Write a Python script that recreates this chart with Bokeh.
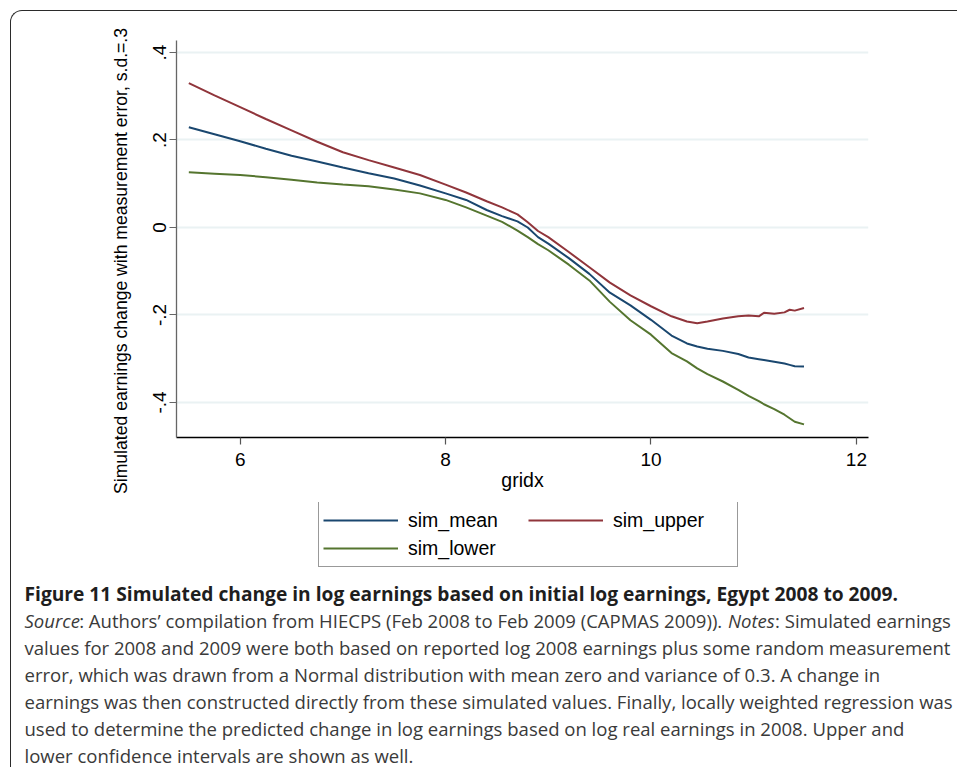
from bokeh.plotting import figure
from bokeh.models import (Range1d, FixedTicker, Legend, LegendItem,
                          ColumnDataSource)
from bokeh.core.properties import value
from bokeh.embed import file_html
from bokeh.resources import INLINE

# ---------------- data ----------------
gridx = [5.50, 5.75, 6.00, 6.25, 6.50, 6.75, 7.00, 7.25, 7.50, 7.75, 8.00,
         8.20, 8.40, 8.55, 8.70, 8.80, 8.90, 9.00, 9.20, 9.40, 9.60, 9.80,
         10.00, 10.20, 10.35, 10.45, 10.55, 10.70, 10.85, 10.95, 11.05,
         11.10, 11.20, 11.30, 11.35, 11.40, 11.49]
sim_mean = [0.229, 0.213, 0.197, 0.180, 0.164, 0.151, 0.137, 0.124, 0.112,
            0.096, 0.078, 0.063, 0.040, 0.026, 0.014, 0.000, -0.022, -0.037,
            -0.070, -0.106, -0.149, -0.178, -0.211, -0.247, -0.265, -0.272,
            -0.277, -0.282, -0.289, -0.297, -0.301, -0.303, -0.307, -0.311,
            -0.314, -0.317, -0.318]
sim_upper = [0.330, 0.302, 0.275, 0.248, 0.222, 0.196, 0.172, 0.154, 0.137,
             0.120, 0.098, 0.080, 0.060, 0.046, 0.030, 0.012, -0.008, -0.022,
             -0.056, -0.091, -0.126, -0.155, -0.180, -0.203, -0.215, -0.219,
             -0.215, -0.208, -0.203, -0.201, -0.203, -0.195, -0.197, -0.194,
             -0.188, -0.190, -0.184]
sim_lower = [0.126, 0.123, 0.120, 0.115, 0.109, 0.103, 0.098, 0.094, 0.087,
             0.078, 0.063, 0.046, 0.027, 0.013, -0.007, -0.022, -0.038, -0.052,
             -0.085, -0.121, -0.170, -0.212, -0.245, -0.287, -0.306, -0.322,
             -0.335, -0.352, -0.371, -0.385, -0.397, -0.404, -0.415, -0.428,
             -0.436, -0.444, -0.450]

series_names = ["sim_mean", "sim_upper", "sim_lower"]
series_colors = ["#1a476f", "#90353b", "#55752f"]

x_ticks = [6, 8, 10, 12]
y_ticks = [-0.4, -0.2, 0.0, 0.2, 0.4]
y_tick_labels = {-0.4: "-.4", -0.2: "-.2", 0.0: "0", 0.2: ".2", 0.4: ".4"}

x_title = "gridx"
y_title = "Simulated earnings change with measurement error, s.d.=.3"

caption_title = ("Figure 11 Simulated change in log earnings based on initial "
                 "log earnings, Egypt 2008 to 2009.")
caption_line2 = [("Source", "italic"),
                 (": Authors\u2019 compilation from HIECPS (Feb 2008 to Feb 2009 "
                  "(CAPMAS 2009)). ", "normal"),
                 ("Notes", "italic"),
                 (": Simulated earnings", "normal")]
caption_rest = [
    "values for 2008 and 2009 were both based on reported log 2008 earnings plus some random measurement",
    "error, which was drawn from a Normal distribution with mean zero and variance of 0.3. A change in",
    "earnings was then constructed directly from these simulated values. Finally, locally weighted regression was",
    "used to determine the predicted change in log earnings based on log real earnings in 2008. Upper and",
    "lower confidence intervals are shown as well.",
]

# ---------------- geometry (page pixels) ----------------
W = 957
H_MAIN = 502
H_CAP = 767 - H_MAIN
FL, FT, FR, FB = 176, 40, 868, 437

AXFONT = "Liberation Sans"
CAPFONT = "Open Sans"

# ---------------- main chart ----------------
p = figure(width=W, height=H_MAIN, output_backend="svg", toolbar_location=None,
           x_range=Range1d(5.380, 12.118), y_range=Range1d(-0.480, 0.4274),
           min_border_left=FL, min_border_right=W - FR,
           min_border_top=FT, min_border_bottom=H_MAIN - FB)
p.outline_line_color = None
p.background_fill_color = "white"
p.border_fill_color = "white"

xa = p.xaxis[0]
xa.ticker = FixedTicker(ticks=x_ticks)
xa.axis_line_color = "black"
xa.axis_line_width = 1.3
xa.major_tick_line_color = "#555555"
xa.major_tick_line_width = 1.2
xa.major_tick_out = 7
xa.major_tick_in = 0
xa.minor_tick_line_color = None
xa.major_label_standoff = 8
xa.major_label_text_font = AXFONT
xa.major_label_text_font_size = "19px"
xa.major_label_text_color = "black"
xa.axis_label = x_title
xa.axis_label_text_font = AXFONT
xa.axis_label_text_font_size = "19.5px"
xa.axis_label_text_font_style = "normal"
xa.axis_label_text_color = "black"
xa.axis_label_standoff = 0

ya = p.yaxis[0]
ya.ticker = FixedTicker(ticks=y_ticks)
ya.major_label_overrides = y_tick_labels
ya.major_label_orientation = "parallel"
ya.axis_line_color = "#666666"
ya.axis_line_width = 1.3
ya.major_tick_line_color = "#666666"
ya.major_tick_line_width = 1.2
ya.major_tick_out = 7
ya.major_tick_in = 0
ya.minor_tick_line_color = None
ya.major_label_standoff = 3
ya.major_label_text_font = AXFONT
ya.major_label_text_font_size = "19px"
ya.major_label_text_color = "black"
# trailing no-break spaces shift the centred title downwards as in the reference
ya.axis_label = y_title + "\u00a0" * 9
ya.axis_label_text_font = AXFONT
ya.axis_label_text_font_size = "17.6px"
ya.axis_label_text_font_style = "normal"
ya.axis_label_text_color = "black"
ya.axis_label_standoff = 20

p.xgrid.grid_line_color = None
p.ygrid.ticker = FixedTicker(ticks=y_ticks)
p.ygrid.grid_line_color = "#eaf2f3"
p.ygrid.grid_line_width = 2

for ys, col in zip([sim_mean, sim_upper, sim_lower], series_colors):
    p.line(gridx, ys, line_color=col, line_width=2)

# ---------------- legend + caption panel ----------------
c = figure(width=W, height=H_CAP, output_backend="svg", toolbar_location=None,
           x_range=Range1d(0, W), y_range=Range1d(H_CAP, 0),
           min_border=0, x_axis_location=None, y_axis_location=None)
c.outline_line_color = None
c.xgrid.grid_line_color = None
c.ygrid.grid_line_color = None
c.background_fill_color = "white"
c.border_fill_color = "white"

nan = float("nan")
key_renderers = [c.line(x=[nan], y=[nan], line_color=col, line_width=2)
                 for col in series_colors]
legend = Legend(items=[LegendItem(label=n, renderers=[r])
                       for n, r in zip(series_names, key_renderers)],
                location=(318, 767 - 567), orientation="horizontal", ncols=2,
                label_text_font=AXFONT, label_text_font_size="19.5px",
                label_text_color="black",
                glyph_width=75, glyph_height=28, label_width=120,
                label_height=28, spacing=0, padding=4, margin=0,
                label_standoff=10, border_line_color="#333333",
                border_line_width=1, background_fill_color="white",
                background_fill_alpha=1)
c.add_layout(legend)

CAP_SIZE = 18.55
CAP_X = 24
base0 = 593
lead = 27.0

OS_W = {' ': 532, 'S': 1104, 'o': 1237, 'u': 1257, 'r': 836, 'c': 975,
        'e': 1149, ':': 545, 'A': 1296, 't': 723, 'h': 1257, 's': 977,
        '\u2019': 358, 'm': 1905, 'p': 1255, 'i': 518, 'l': 518, 'a': 1139,
        'n': 1257, 'f': 694, 'H': 1511, 'I': 571, 'E': 1139, 'C': 1292,
        'P': 1225, '(': 606, ')': 606, 'F': 1057, 'b': 1255, 'M': 1858,
        '.': 545, 'N': 1561, 'd': 1255, 'g': 1122}


def text_w(s, size, style):
    w = sum(OS_W.get(ch, 1171) for ch in s) / 2048.0 * size
    return w * (0.92 if style == "italic" else 1.0)


def cy(page_y):
    return page_y - H_MAIN


c.text(x=[CAP_X], y=[cy(base0)], text=[caption_title],
       text_font=value(CAPFONT), text_font_size="19.2px",
       text_font_style="bold", text_color="#1e1e1e",
       text_baseline="alphabetic", text_align="left")

cx = CAP_X
for seg, style in caption_line2:
    c.text(x=[cx], y=[cy(base0 + lead)], text=[seg],
           text_font=value(CAPFONT), text_font_size=f"{CAP_SIZE}px",
           text_font_style=style, text_color="#3a3a3a",
           text_baseline="alphabetic", text_align="left")
    cx += text_w(seg, CAP_SIZE, style)

rest_src = ColumnDataSource(dict(
    x=[CAP_X] * len(caption_rest),
    y=[cy(base0 + lead * (i + 2)) for i in range(len(caption_rest))],
    text=caption_rest))
c.text(x="x", y="y", text="text", source=rest_src,
       text_font=value(CAPFONT), text_font_size=f"{CAP_SIZE}px",
       text_color="#3a3a3a", text_baseline="alphabetic", text_align="left")

# page template: rounded outer frame whose top-left part is in view
TEMPLATE = """
{% block postamble %}
<style>
  html, body { overflow: hidden; }
  body { position: relative; }
  .outer-frame {
    position: absolute; left: 10px; top: 10px; width: 1000px; height: 1000px;
    box-sizing: border-box; border-top: 1.6px solid #2b2b2b;
    border-left: 1.6px solid #2b2b2b; border-top-left-radius: 12px;
    pointer-events: none; z-index: 10;
  }
</style>
{% endblock %}
{% block contents %}
{{ super() }}
<div class="outer-frame"></div>
{% endblock %}
"""

open("out.html", "w").write(file_html([p, c], INLINE, template=TEMPLATE))
